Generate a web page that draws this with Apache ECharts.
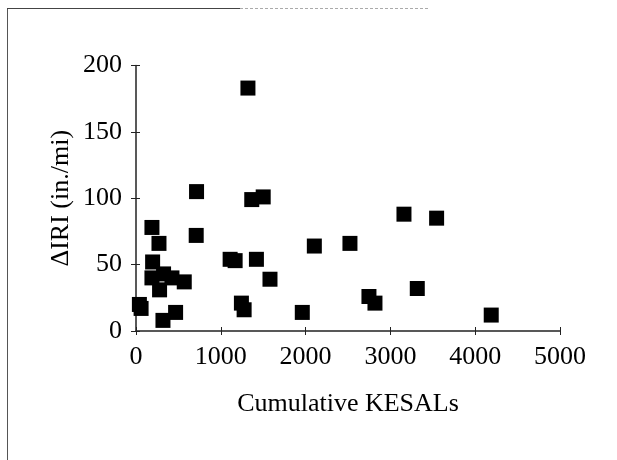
<!DOCTYPE html>
<html>
<head>
<meta charset="utf-8">
<script src="https://cdn.jsdelivr.net/npm/echarts@6/dist/echarts.min.js"></script>
<style>
html,body{margin:0;padding:0;background:#fff;}
#c{width:617px;height:460px;}
</style>
</head>
<body>
<div id="c"></div>
<script>
// Cumulative KESALs
var kesals = [1320, 714, 1365, 1500, 188, 271, 710, 196, 1110, 1169, 1420, 188, 325, 424, 569, 278, 1580, 40, 60, 318, 467, 1243, 1275, 1961, 2103, 2523, 3160, 3545, 2747, 2818, 3317, 4189];
// Delta IRI (in./mi)
var deltaIRI = [183, 105, 99, 101, 78, 66, 72, 52, 54, 53, 54, 40, 43, 40, 37, 31, 39, 20, 17, 8, 14, 21, 16, 14, 64, 66, 88, 85, 26, 21, 32, 12];
var xTicks = [0, 1000, 2000, 3000, 4000, 5000];
var yTicks = [0, 50, 100, 150, 200];

var points = kesals.map(function (x, i) { return [x, deltaIRI[i]]; });
var font = '"Liberation Serif", "DejaVu Serif", serif';
var chart = echarts.init(document.getElementById('c'), null, {renderer: 'canvas'});
var axisLine = {lineStyle: {color: '#222', width: 1.5}};
var plain = function (v) { return String(v); };
chart.setOption({
  animation: false,
  backgroundColor: '#fff',
  grid: {left: 136, right: 57, top: 65.5, bottom: 129},
  graphic: [
    {type: 'line', shape: {x1: 7.5, y1: 8, x2: 7.5, y2: 460}, style: {stroke: '#555', lineWidth: 1}},
    {type: 'line', shape: {x1: 7, y1: 8.5, x2: 240, y2: 8.5}, style: {stroke: '#444', lineWidth: 1}},
    {type: 'line', shape: {x1: 240, y1: 8.5, x2: 430, y2: 8.5}, style: {stroke: '#aaa', lineWidth: 1, lineDash: [3, 2]}}
  ],
  xAxis: [{
    type: 'value', min: xTicks[0], max: xTicks[xTicks.length - 1], interval: 1000,
    axisLine: axisLine,
    axisTick: {show: true, inside: false, length: 4, lineStyle: {color: '#222'}},
    splitLine: {show: false},
    axisLabel: {fontFamily: font, fontSize: 26, color: '#000', margin: 13, formatter: plain},
    name: 'Cumulative KESALs', nameLocation: 'middle', nameGap: 60, nameMoveOverlap: false,
    nameTextStyle: {fontFamily: font, fontSize: 26, color: '#000'}
  }, {
    type: 'value', position: 'bottom', min: xTicks[0], max: xTicks[xTicks.length - 1], interval: 1000,
    axisLine: {show: false}, axisLabel: {show: false}, splitLine: {show: false},
    axisTick: {show: true, inside: true, length: 4, lineStyle: {color: '#222'}}
  }],
  yAxis: [{
    type: 'value', min: yTicks[0], max: yTicks[yTicks.length - 1], interval: 50,
    axisLine: Object.assign({show: true}, axisLine),
    axisTick: {show: true, inside: false, length: 5, lineStyle: {color: '#222'}},
    splitLine: {show: false},
    axisLabel: {fontFamily: font, fontSize: 26, color: '#000', margin: 14, formatter: plain},
    name: 'ΔIRI (in./mi)', nameLocation: 'middle', nameGap: 62, nameRotate: 90, nameMoveOverlap: false,
    nameTextStyle: {fontFamily: font, fontSize: 26, color: '#000'}
  }, {
    type: 'value', position: 'left', min: yTicks[0], max: yTicks[yTicks.length - 1], interval: 50,
    axisLine: {show: false}, axisLabel: {show: false}, splitLine: {show: false},
    axisTick: {show: true, inside: true, length: 4, lineStyle: {color: '#222'}}
  }],
  series: [{
    type: 'scatter', data: points, symbol: 'rect', symbolSize: 15,
    itemStyle: {color: '#000', opacity: 1}
  }]
});
</script>
</body>
</html>
